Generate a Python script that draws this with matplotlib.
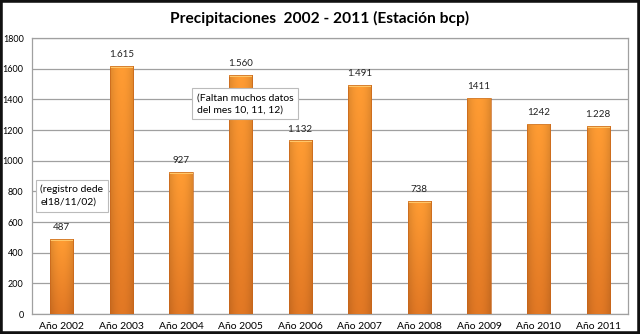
import numpy as np
import matplotlib
matplotlib.use('Agg')
import matplotlib.pyplot as plt
from matplotlib.patches import Rectangle
from matplotlib.colors import to_rgb

years = ['Año 2002', 'Año 2003', 'Año 2004', 'Año 2005', 'Año 2006',
         'Año 2007', 'Año 2008', 'Año 2009', 'Año 2010', 'Año 2011']
rain = [487, 1615, 927, 1560, 1132, 1491, 738, 1411, 1242, 1228]
labels = ['487', '1.615', '927', '1.560', '1.132', '1.491', '738', '1411', '1242', '1.228']

plt.rcParams['font.family'] = ['Lato', 'DejaVu Sans']

fig = plt.figure(figsize=(6.4, 3.34), dpi=100)
ax = fig.add_axes([32 / 640, 20 / 334, 596 / 640, 276 / 334])

x = np.arange(len(years))
bars = ax.bar(x, rain, width=0.39, color='#F08A2A', zorder=3)

# 2d gradient: brighter at the top, darker at the bottom and at the sides
top_c = np.array(to_rgb('#FF9C33'))
bot_c = np.array(to_rgb('#E27824'))
t = np.linspace(0, 1, 80).reshape(-1, 1, 1)
u = np.linspace(-1, 1, 40).reshape(1, -1, 1)
img = (bot_c + (top_c - bot_c) * t) * (1 - 0.13 * u ** 2)
img = np.clip(img, 0, 1)

for b in bars:
    x0, w, h = b.get_x(), b.get_width(), b.get_height()
    im = ax.imshow(img, origin='lower', aspect='auto', zorder=3,
                   extent=[x0, x0 + w, 0, h], interpolation='bilinear')
    im.set_clip_path(b)
    ax.add_patch(Rectangle((x0, h - 12), w, 12, facecolor='#FFC76A',
                           edgecolor='none', zorder=4))
    b.set_facecolor('none')
    b.set_edgecolor('#C8651A')
    b.set_linewidth(0.5)
    b.set_zorder(5)

for xi, v, lab in zip(x, rain, labels):
    ax.text(xi, v + 45, lab, ha='center', va='bottom', fontsize=7, color='#222222', zorder=6)

ax.set_xlim(-0.5, len(years) - 0.5)
ax.set_ylim(0, 1800)
ax.set_yticks(range(0, 1801, 200))
ax.set_xticks(x)
ax.set_xticklabels(years, fontsize=7.5)
ax.tick_params(axis='y', labelsize=6.5, length=0, pad=6)
ax.tick_params(axis='x', length=0, pad=6)
ax.yaxis.grid(True, color='#A0A0A0', linewidth=0.9, zorder=0)
for s in ax.spines.values():
    s.set_color('#A0A0A0')
    s.set_linewidth(0.9)

ax.text(-0.36, 770, '(registro dede\nel18/11/02)', fontsize=7.5, ha='left', va='center',
        linespacing=1.5, zorder=7,
        bbox=dict(boxstyle='square,pad=0.45', facecolor='white', edgecolor='#BBBBBB', linewidth=0.8))
ax.text(2.27, 1370, '(Faltan muchos datos\ndel mes 10, 11, 12)', fontsize=7.5, ha='left', va='center',
        linespacing=1.5, zorder=7,
        bbox=dict(boxstyle='square,pad=0.45', facecolor='white', edgecolor='#BBBBBB', linewidth=0.8))

fig.text(0.5, 0.945, 'Precipitaciones  2002 - 2011 (Estación bcp)', ha='center', va='center',
         fontsize=11.2, fontweight='bold')

fig.patches.append(Rectangle((0, 0), 1, 1, transform=fig.transFigure, fill=False,
                             edgecolor='#111111', linewidth=4))

fig.savefig('out.png', dpi=100)
